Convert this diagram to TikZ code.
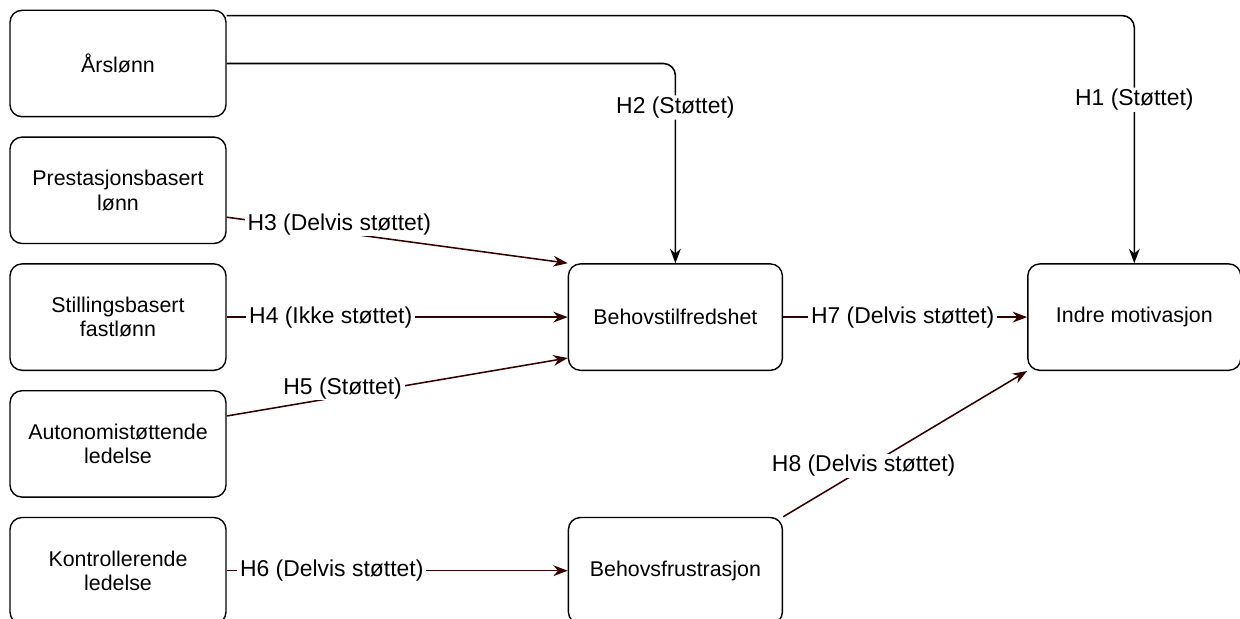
\documentclass[tikz,border=0pt]{standalone}
\usepackage{fontspec}
\setmainfont{Liberation Sans}
\usepackage{tikz}
\usetikzlibrary{positioning, arrows.meta}
\definecolor{hypcolor}{HTML}{330000}
\tikzset{
	box/.append style={
		draw,
		rounded corners=0.3cm,
		align = center,
		line width=1pt,
		minimum width=5.4cm,
		minimum height=2.66cm,
		inner sep=0mm,
		font={\fontsize{15.2}{17.4}\selectfont}
	},
	lbl/.append style={
		fill=white,
		inner xsep=2pt,
		inner ysep=1pt,
		font={\fontsize{16.3}{18}\selectfont}
	},
	hyp/.append style={
		draw=hypcolor,
		line width=1.1pt,
		-{Stealth[length=3.6mm, width=2.7mm]}
	},
	hypblack/.append style={
		draw=black,
		line width=1.1pt,
		rounded corners=0.3cm,
		-{Stealth[length=3.6mm, width=2.7mm]}
	}
}

\begin{document}
\begin{tikzpicture}[]
\useasboundingbox (0,0) rectangle (31,15.475);

\node(aars)[box] at (2.95,13.8875) {Årslønn};
\node(prest)[box, below = 0.475cm of aars]{Prestasjonsbasert\\lønn};
\node(still)[box, below = 0.475cm of prest]{Stillingsbasert\\fastlønn};
\node(auto)[box, below = 0.475cm of still]{Autonomistøttende\\ledelse};
\node(kontr)[box, below = 0.475cm of auto]{Kontrollerende\\ledelse};

\node(tilfr)[box, minimum width=5.35cm, right = 8.525cm of still]{Behovstilfredshet};
\node(frustr)[box, minimum width=5.35cm, right = 8.525cm of kontr]{Behovsfrustrasjon};
\node(indre)[box, minimum width=5.325cm, right = 6.1cm of tilfr]{Indre motivasjon};


\draw[hypblack] ([yshift=-0.15cm]aars.north east) -| node[lbl, pos=0.67]{H1 (Støttet)} (indre.north);
\draw[hypblack] (aars.east) -| node[lbl, pos=0.61]{H2 (Støttet)} (tilfr.north);

\draw[hyp] ([yshift=0.675cm]prest.south east) -- node[lbl, pos=0.33, yshift=0.2cm]{H3 (Delvis støttet)} (tilfr.north west);
\draw[hyp] (still) -- node[lbl, pos=0.305]{H4 (Ikke støttet)} (tilfr);
\draw[hyp] ([yshift=-0.65cm]auto.north east) -- node[lbl, pos=0.34, yshift=0.2cm]{H5 (Støttet)} ([yshift=0.325cm]tilfr.south west);
\draw[hyp] (kontr) -- node[lbl, pos=0.308]{H6 (Delvis støttet)} (frustr);
\draw[hyp] (tilfr) -- node[lbl, pos=0.49]{H7 (Delvis støttet)} (indre);
\draw[hyp] (frustr.north east) -- node[lbl, pos=0.33, yshift=0.07cm]{H8 (Delvis støttet)} (indre.south west);

\end{tikzpicture}
\end{document}
